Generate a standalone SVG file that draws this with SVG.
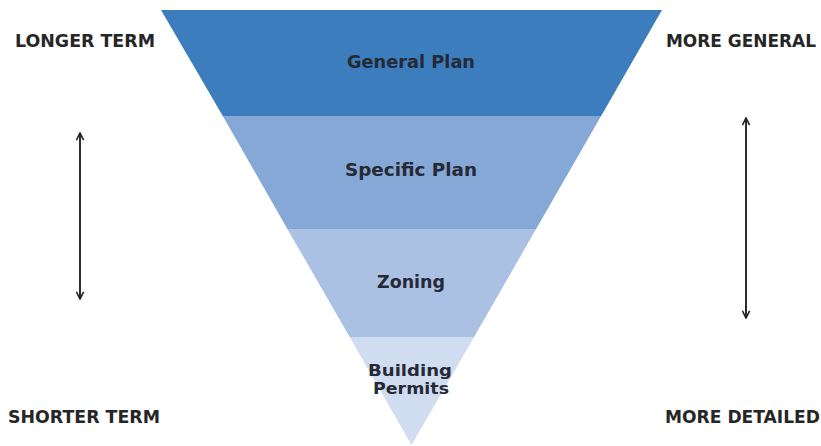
<svg xmlns="http://www.w3.org/2000/svg" width="821" height="446" viewBox="0 0 821 446">
<defs>
<style>
.lbl{font-family:"DejaVu Sans","Open Sans",sans-serif;font-weight:bold;font-size:17px;fill:#262626;}
.band{font-family:"DejaVu Sans","Open Sans",sans-serif;font-weight:bold;font-size:17px;fill:#252a36;text-anchor:middle;}
.sm{font-size:16px;}
.arr{stroke:#222;stroke-width:1.9;fill:none;}
</style>
<marker id="ah" viewBox="0 0 10 10" refX="9" refY="5" markerWidth="9" markerHeight="9" orient="auto-start-reverse" markerUnits="userSpaceOnUse">
<path d="M1,1 L9,5 L1,9" fill="none" stroke="#222" stroke-width="1.8"/>
</marker>
</defs>
<rect width="821" height="446" fill="#ffffff"/>
<g id="general-plan">
<polygon points="161,10 662,10 601.1,116 222.8,116" fill="#3b7dbd"/>
<text class="band" x="411" y="68" textLength="128" lengthAdjust="spacingAndGlyphs">General Plan</text>
</g>
<g id="specific-plan">
<polygon points="222.8,116 601.1,116 536.1,229 287.4,229" fill="#86a8d6"/>
<text class="band" x="411" y="176" textLength="132" lengthAdjust="spacingAndGlyphs">Specific Plan</text>
</g>
<g id="zoning">
<polygon points="287.4,229 536.1,229 474.1,337 349.7,337" fill="#abc1e4"/>
<text class="band" x="411" y="288" textLength="68" lengthAdjust="spacingAndGlyphs">Zoning</text>
</g>
<g id="building-permits">
<polygon points="349.7,337 474.1,337 411.5,445" fill="#d0dcf0"/>
<text class="band sm" x="410" y="376" textLength="84" lengthAdjust="spacingAndGlyphs">Building</text>
<text class="band sm" x="411" y="394" textLength="76" lengthAdjust="spacingAndGlyphs">Permits</text>
</g>
<g id="labels">
<text class="lbl" x="15" y="47" textLength="140" lengthAdjust="spacingAndGlyphs">LONGER TERM</text>
<text class="lbl" x="8" y="423" textLength="152" lengthAdjust="spacingAndGlyphs">SHORTER TERM</text>
<text class="lbl" x="666" y="47" textLength="150" lengthAdjust="spacingAndGlyphs">MORE GENERAL</text>
<text class="lbl" x="665" y="423" textLength="155" lengthAdjust="spacingAndGlyphs">MORE DETAILED</text>
</g>
<g id="connectors">
<line class="arr" x1="80" y1="133" x2="80" y2="299" marker-start="url(#ah)" marker-end="url(#ah)"/>
<line class="arr" x1="746" y1="118" x2="746" y2="318" marker-start="url(#ah)" marker-end="url(#ah)"/>
</g>
</svg>
